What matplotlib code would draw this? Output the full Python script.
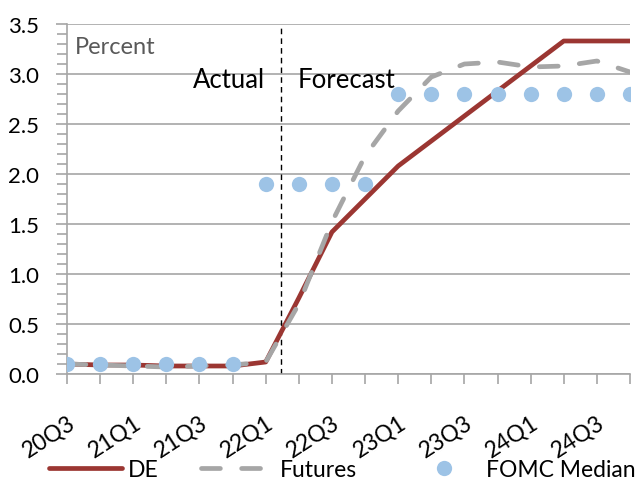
import matplotlib
matplotlib.use("Agg")
import matplotlib.pyplot as plt
from matplotlib.ticker import MultipleLocator, FixedLocator
from matplotlib.lines import Line2D
from matplotlib.transforms import ScaledTranslation

plt.rcParams['font.family'] = ['Lato', 'DejaVu Sans']

quarters = ["20Q3", "20Q4", "21Q1", "21Q2", "21Q3", "21Q4", "22Q1", "22Q2", "22Q3",
            "22Q4", "23Q1", "23Q2", "23Q3", "23Q4", "24Q1", "24Q2", "24Q3", "24Q4"]
de = [0.10, 0.09, 0.09, 0.08, 0.08, 0.08, 0.12, 0.76, 1.42,
      1.75, 2.08, 2.33, 2.58, 2.83, 3.08, 3.33, 3.33, 3.33]
futures = [0.10, 0.09, 0.08, 0.07, 0.08, 0.09, 0.12, 0.70, 1.52,
           2.18, 2.63, 2.97, 3.10, 3.12, 3.07, 3.08, 3.13, 3.02]
fomc = [0.10, 0.10, 0.10, 0.10, 0.10, 0.10, 1.90, 1.90, 1.90,
        1.90, 2.80, 2.80, 2.80, 2.80, 2.80, 2.80, 2.80, 2.80]
series_names = ["DE", "Futures", "FOMC Median"]

W, H = 639, 481
fig = plt.figure(figsize=(W / 100, H / 100), dpi=100)
ax = fig.add_axes([67 / W, 1 - 375 / H, (630 - 67) / W, 350 / H])

x = list(range(len(quarters)))
grid_c = "#A6A6A6"
de_c = "#9B3632"
fut_c = "#A6A6A6"
fomc_c = "#9DC3E6"
LW = 3.4
DASH = (4, 4.5)

ax.plot(x, de, color=de_c, lw=LW, solid_capstyle="round", zorder=3)
ax.plot(x, futures, color=fut_c, lw=LW, dashes=DASH, dash_capstyle="round", zorder=4)
ax.plot(x, fomc, linestyle="none", marker="o", ms=11, color=fomc_c,
        markeredgewidth=0, zorder=5)

ax.set_xlim(0, len(quarters) - 1)
ax.set_ylim(0, 3.5)

ax.yaxis.set_minor_locator(MultipleLocator(0.1))
ax.set_yticks([i * 0.5 for i in range(8)])
ax.set_yticklabels([f"{i * 0.5:.1f}" for i in range(8)])
ax.yaxis.grid(True, which="major", color=grid_c, lw=1.2)
ax.set_axisbelow(True)

ax.xaxis.set_major_locator(FixedLocator(x))
ax.set_xticklabels([q if i % 2 == 0 else "" for i, q in enumerate(quarters)],
                   rotation=33, ha="right", va="top", rotation_mode="anchor")
off = ScaledTranslation(6 / 100, 0, fig.dpi_scale_trans)
for lab in ax.get_xticklabels():
    lab.set_transform(lab.get_transform() + off)

for s in ["top", "right"]:
    ax.spines[s].set_visible(False)
for s in ["left", "bottom"]:
    ax.spines[s].set_color(grid_c)
    ax.spines[s].set_linewidth(1.2)

ax.tick_params(axis="y", which="major", length=8, width=1.2, color=grid_c,
               labelsize=16, pad=12)
ax.tick_params(axis="y", which="minor", length=7, width=1.2, color=grid_c)
ax.tick_params(axis="x", which="major", length=7, width=1.2, color=grid_c,
               labelsize=16.5, pad=20)

# vertical separator between actual and forecast
ax.axvline(6.45, color="black", lw=1.0, ls=(0, (4, 3)), zorder=2)

ax.text(0.25, 3.28, "Percent", color="#595959", fontsize=17, va="center", ha="left")
ax.text(5.98, 2.95, "Actual", color="black", fontsize=18.5, va="center", ha="right")
ax.text(6.95, 2.95, "Forecast", color="black", fontsize=18.5, va="center", ha="left")

handles = [Line2D([], [], color=de_c, lw=LW, solid_capstyle="round"),
           Line2D([], [], color=fut_c, lw=LW, dashes=DASH, dash_capstyle="round"),
           Line2D([], [], linestyle="none", marker="o", ms=11, color=fomc_c,
                  markeredgewidth=0)]
legend_left_px = [49, 201, 407]
for h, name, lx in zip(handles, series_names, legend_left_px):
    fig.legend([h], [name], loc="center left",
               bbox_to_anchor=(lx / W, 1 - 471 / H), frameon=False, fontsize=16.5,
               handlelength=3.2, handletextpad=0.25, numpoints=1,
               borderpad=0, borderaxespad=0)

fig.savefig("out.png", dpi=100)
